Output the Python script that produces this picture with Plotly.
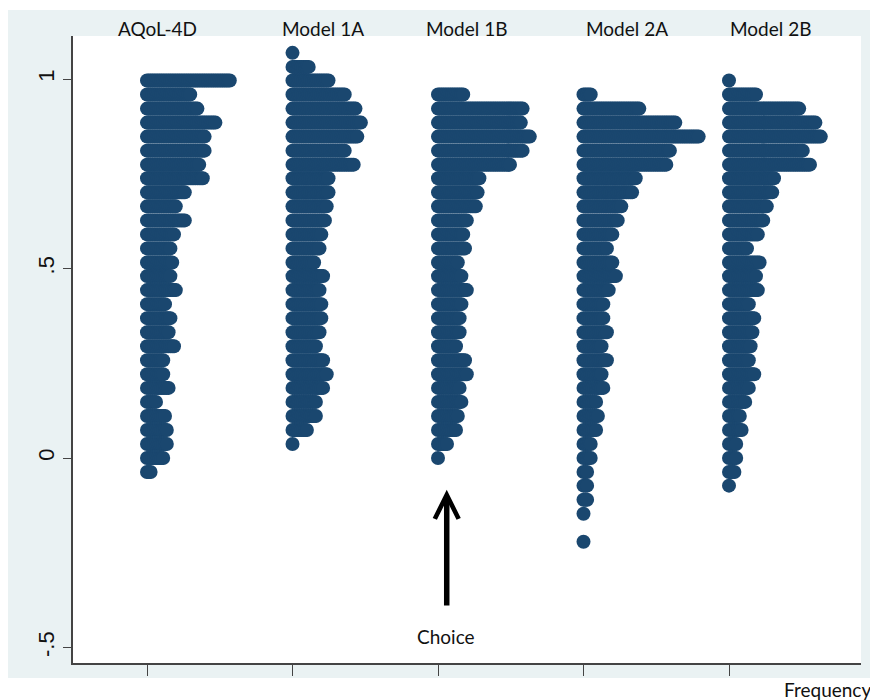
import plotly.graph_objects as go

# ---------------- data ----------------
groups = ["AQoL-4D", "Model 1A", "Model 1B", "Model 2A", "Model 2B"]

# utility bins shared by all groups (top to bottom)
bin_values = [1.069, 1.032, 0.996, 0.959, 0.922, 0.885, 0.848, 0.811, 0.774,
              0.738, 0.701, 0.664, 0.627, 0.590, 0.553, 0.516, 0.480, 0.443,
              0.406, 0.369, 0.332, 0.295, 0.258, 0.221, 0.185, 0.148, 0.111,
              0.074, 0.037, 0.000, -0.037, -0.073, -0.110, -0.147, -0.184, -0.221]

# frequency of observations in each bin, per group
freq_aqol = [0, 0, 47, 25, 29, 39, 33, 33, 30, 32, 22, 17, 22, 16, 14, 15, 14, 17,
             11, 14, 13, 16, 10, 10, 13, 6, 11, 12, 12, 10, 3, 0, 0, 0, 0, 0]
freq_1a = [1, 10, 21, 30, 36, 39, 37, 30, 35, 21, 21, 20, 19, 17, 16, 13, 18, 16,
           17, 17, 16, 14, 18, 20, 18, 14, 14, 9, 1, 0, 0, 0, 0, 0, 0, 0]
freq_1b = [0, 0, 0, 15, 48, 47, 52, 48, 41, 24, 23, 22, 17, 15, 16, 12, 14, 17,
           14, 13, 13, 11, 16, 17, 13, 14, 12, 11, 6, 1, 0, 0, 0, 0, 0, 0]
freq_2a = [0, 0, 0, 5, 32, 52, 65, 49, 47, 30, 28, 22, 20, 17, 14, 17, 19, 15,
           12, 12, 14, 11, 14, 11, 12, 8, 9, 8, 5, 5, 3, 3, 3, 1, 0, 1]
freq_2b = [0, 0, 1, 16, 40, 49, 52, 42, 46, 26, 25, 22, 20, 17, 11, 18, 16, 17,
           12, 15, 14, 13, 12, 15, 12, 10, 7, 8, 5, 5, 4, 1, 0, 0, 0, 0]

y_tick_vals = [1, 0.5, 0, -0.5]
y_tick_text = ["1", ".5", "0", "-.5"]

# ---------------- style ----------------
DOT = "#1A476F"
GRAPH_BG = "#EAF2F3"
AXIS = "#444444"
dot_step = 0.01237          # horizontal offset per observation (x units)
OFF = 8                     # page body margin of the html page
W, H = 878 - OFF, 700 - OFF
L, T = 73 - OFF, 36 - OFF
R = W - (861 - OFF)
B = H - (663 - OFF)
PW, PH = W - L - R, H - T - B


def px_x(px):
    return (px - OFF - L) / PW


def px_y(py):
    return (H - B - (py - OFF)) / PH


fig = go.Figure()
all_freq = [freq_aqol, freq_1a, freq_1b, freq_2a, freq_2b]
for g, (name, freq) in enumerate(zip(groups, all_freq)):
    xs, ys = [], []
    for val, n in zip(bin_values, freq):
        for j in range(n):
            xs.append(g + j * dot_step)
            ys.append(val)
    fig.add_trace(go.Scatter(
        x=xs, y=ys, mode="markers", name=name, showlegend=False,
        marker=dict(size=14, color=DOT, line=dict(width=0)),
        hoverinfo="skip"))

shapes = [
    dict(type="rect", xref="paper", yref="paper",
         x0=px_x(8), x1=px_x(874), y0=px_y(678), y1=px_y(10),
         fillcolor=GRAPH_BG, line=dict(width=0), layer="below"),
    dict(type="rect", xref="paper", yref="paper",
         x0=0, x1=1, y0=0, y1=1,
         fillcolor="white", line=dict(width=0), layer="below"),
]

label_px = [157.5, 323, 466.7, 626.7, 770.7]
annotations = []
for name, lx in zip(groups, label_px):
    annotations.append(dict(
        text=name, xref="paper", yref="paper", x=px_x(lx), y=px_y(28),
        xanchor="center", yanchor="middle", showarrow=False,
        font=dict(family="Lato", size=19, color="#111111")))

annotations.append(dict(
    text="Choice", xref="paper", yref="paper", x=px_x(446), y=px_y(636),
    xanchor="center", yanchor="middle", showarrow=False,
    font=dict(family="Lato", size=19, color="#111111")))
annotations.append(dict(
    text="Frequency", xref="paper", yref="paper", x=px_x(827), y=px_y(690),
    xanchor="center", yanchor="middle", showarrow=False,
    font=dict(family="Lato", size=19, color="#111111")))

# arrow pointing at the Model 1B zero value
annotations.append(dict(
    text="", x=2.06, y=-0.084, xref="x", yref="y",
    ax=2.06, ay=-0.393, axref="x", ayref="y",
    showarrow=True, arrowhead=5, arrowwidth=5.5, arrowsize=0.85,
    arrowcolor="black", standoff=0, startstandoff=0))

fig.update_layout(
    width=W, height=H, autosize=False,
    margin=dict(l=L, r=R, t=T, b=B, pad=0),
    paper_bgcolor="white", plot_bgcolor="white",
    shapes=shapes, annotations=annotations,
    xaxis=dict(range=[(73 - 147) / 145.5, (861 - 147) / 145.5],
               tickvals=[0, 1, 2, 3, 4], ticktext=[""] * 5,
               ticks="outside", ticklen=11, tickwidth=1.2, tickcolor=AXIS,
               showline=True, linecolor=AXIS, linewidth=1.5,
               showgrid=False, zeroline=False, fixedrange=True),
    yaxis=dict(range=[-0.5409, 1.1135],
               tickvals=y_tick_vals, ticktext=y_tick_text,
               tickangle=-90, ticks="outside", ticklen=8, tickwidth=1.2,
               tickcolor=AXIS, showline=True, linecolor=AXIS, linewidth=1.5,
               ticklabelstandoff=0,
               tickfont=dict(family="Liberation Sans", size=22, color="#111111"),
               showgrid=False, zeroline=False, fixedrange=True),
)

fig.write_html("out.html")
